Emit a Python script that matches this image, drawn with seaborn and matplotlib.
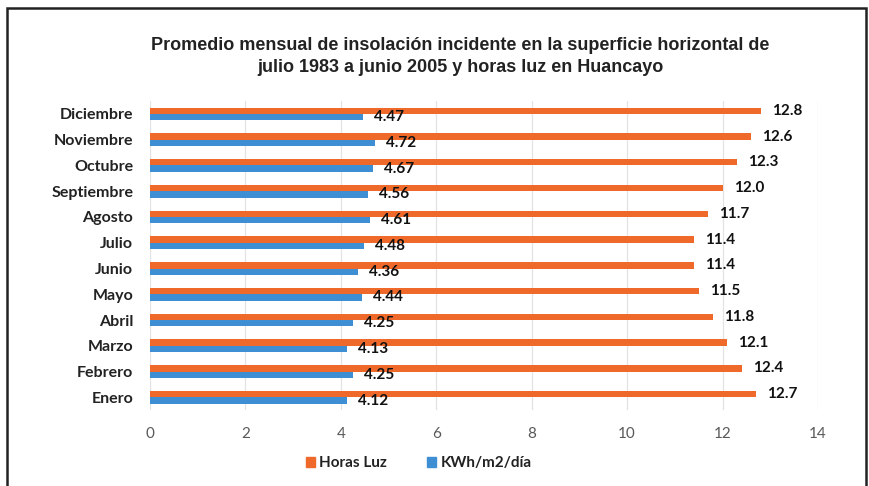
import matplotlib
matplotlib.use("Agg")
import matplotlib.pyplot as plt
import matplotlib.patches as mpatches
import seaborn as sns
import pandas as pd

#%% Datos
meses = ['Diciembre', 'Noviembre', 'Octubre', 'Septiembre', 'Agosto', 'Julio',
         'Junio', 'Mayo', 'Abril', 'Marzo', 'Febrero', 'Enero']
horas_luz = [12.8, 12.6, 12.3, 12.0, 11.7, 11.4, 11.4, 11.5, 11.8, 12.1, 12.4, 12.7]
kwh = [4.47, 4.72, 4.67, 4.56, 4.61, 4.48, 4.36, 4.44, 4.25, 4.13, 4.25, 4.12]
series = ['Horas Luz', 'KWh/m2/día']
colores = ['#EF6A2A', '#3E8ED4']
xticks = [0, 2, 4, 6, 8, 10, 12, 14]

df = pd.DataFrame({
    'mes': meses * 2,
    'valor': horas_luz + kwh,
    'serie': [series[0]] * len(meses) + [series[1]] * len(meses),
})

#%% Grafico
sns.set_style('white')
plt.rcParams['font.family'] = ['Lato', 'DejaVu Sans']

fig = plt.figure(figsize=(8.69, 4.86), dpi=100)
ax = fig.add_axes([0.1726, 0.156, 0.7687, 0.636])

sns.barplot(data=df, y='mes', x='valor', hue='serie', order=meses,
            hue_order=series, palette=colores, orient='h', width=0.5,
            saturation=1, linewidth=0, ax=ax, legend=False)

# etiquetas de datos
ax.bar_label(ax.containers[0], fmt='%.1f', padding=8, fontsize=11,
             fontweight='bold', color='#111111')
ax.bar_label(ax.containers[1], fmt='%.2f', padding=8, fontsize=11,
             fontweight='bold', color='#111111')

ax.set_xlim(0, 14)
ax.set_xticks(xticks)
ax.set_xticklabels([str(t) for t in xticks], fontsize=11, color='#595959')
ax.tick_params(axis='x', length=0, pad=12)
ax.tick_params(axis='y', length=0, pad=12)
for lbl in ax.get_yticklabels():
    lbl.set_fontweight('bold')
    lbl.set_fontsize(11.5)
    lbl.set_color('#222222')
ax.set_xlabel('')
ax.set_ylabel('')
ax.grid(axis='x', color='#E3E3E3', linewidth=0.9)
ax.set_axisbelow(True)
sns.despine(ax=ax, left=True, bottom=True)

# titulo
fig.text(0.53, 0.883, 'Promedio mensual de insolación incidente en la superficie horizontal de\n'
         'julio 1983 a junio 2005 y horas luz en Huancayo',
         ha='center', va='center', fontsize=13, fontweight='bold',
         family='Liberation Sans', color='#222222', linespacing=1.4)

# leyenda
handles = [mpatches.Patch(color=c, label=s) for c, s in zip(colores, series)]
leg = fig.legend(handles=handles, loc='center', bbox_to_anchor=(0.482, 0.047), ncol=2,
                 frameon=False, fontsize=11,
                 handlelength=0.6, handleheight=0.6, handletextpad=0.3,
                 columnspacing=2.6)
for t in leg.get_texts():
    t.set_fontweight('bold')
    t.set_color('#222222')

# marco
marco = mpatches.Rectangle((7 / 869, -0.05), (866 - 7) / 869, 1.05 - 8 / 486,
                           transform=fig.transFigure, fill=False,
                           edgecolor='#222222', linewidth=1.8)
fig.patches.append(marco)

fig.savefig('out.png', dpi=100)
